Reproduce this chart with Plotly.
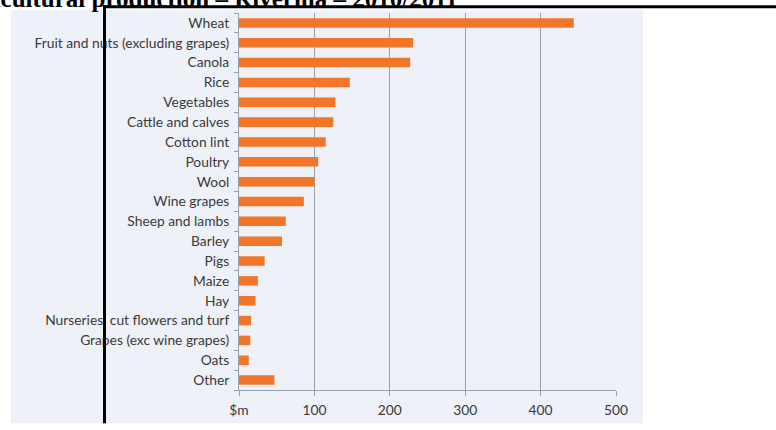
import plotly.graph_objects as go

categories = ["Wheat", "Fruit and nuts (excluding grapes)", "Canola", "Rice", "Vegetables",
              "Cattle and calves", "Cotton lint", "Poultry", "Wool", "Wine grapes",
              "Sheep and lambs", "Barley", "Pigs", "Maize", "Hay",
              "Nurseries, cut flowers and turf", "Grapes (exc wine grapes)", "Oats", "Other"]
values = [444, 231, 227, 147, 128, 125, 115, 105, 100, 86,
          62, 57, 34, 25, 22, 16, 15, 13, 47]
tick_vals = [0, 100, 200, 300, 400, 500]
tick_text = ["$m", "100", "200", "300", "400", "500"]
title_text = "Agricultural production – Riverina – 2010/2011"

W, H = 776, 430
L, R, T, B = 239, 160, 13, 32
pw, ph = W - L - R, H - T - B

def px(x):
    return (x - L) / pw

def py(y):
    return (H - B - y) / ph

fig = go.Figure(go.Bar(
    x=values, y=categories, orientation="h",
    marker=dict(color="#f2762a", line=dict(width=0)),
))

fig.update_layout(
    width=W, height=H,
    margin=dict(l=L, r=R, t=T, b=B, pad=0),
    paper_bgcolor="white",
    plot_bgcolor="rgba(0,0,0,0)",
    bargap=0.52,
    showlegend=False,
    font=dict(family="Lato, Carlito, sans-serif", size=13.8, color="#3a3a3a"),
    xaxis=dict(range=[0, 500], tickvals=tick_vals, ticktext=tick_text,
               showgrid=True, gridcolor="#9aa0aa", gridwidth=1,
               showline=True, linecolor="#9aa0aa", linewidth=1,
               ticks="outside", ticklen=5, tickcolor="#9aa0aa",
               ticklabelstandoff=2,
               zeroline=False, fixedrange=True),
    yaxis=dict(categoryorder="array", categoryarray=categories[::-1],
               showline=True, linecolor="#9aa0aa", linewidth=1,
               ticks="outside", ticklen=4, tickcolor="#9aa0aa",
               tickson="boundaries", ticklabelstandoff=6,
               showgrid=False, fixedrange=True),
    shapes=[
        dict(type="rect", xref="paper", yref="paper", layer="below",
             x0=px(11), x1=px(643), y0=py(10), y1=py(432),
             fillcolor="#eef1f7", line=dict(width=0)),
        dict(type="line", xref="paper", yref="paper", layer="above",
             x0=px(104.5), x1=px(104.5), y0=py(5), y1=py(432),
             line=dict(color="black", width=3)),
        dict(type="line", xref="paper", yref="paper", layer="above",
             x0=px(103), x1=px(780), y0=py(6.5), y1=py(6.5),
             line=dict(color="black", width=3)),
    ],
    annotations=[
        dict(text="<b>" + title_text + "</b>", xref="paper", yref="paper",
             x=px(-50), y=py(14.5), xanchor="left", yanchor="bottom", showarrow=False,
             font=dict(family="Liberation Serif, serif", size=25, color="black")),
    ],
)

fig.write_html("out.html", config={"displayModeBar": False},
               post_script="document.body.style.margin='0';")
